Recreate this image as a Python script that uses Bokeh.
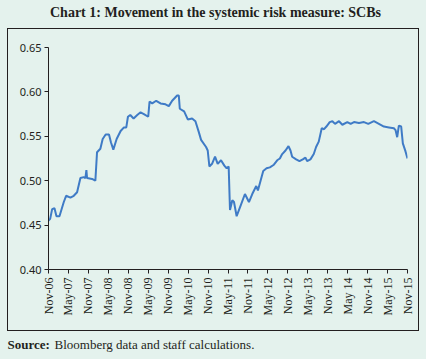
import math
from bokeh.plotting import figure
from bokeh.layouts import column
from bokeh.models import FixedTicker, Range1d, InlineStyleSheet
from bokeh.core.properties import value
from bokeh.embed import file_html
from bokeh.resources import INLINE

# months since Nov-2006
months = [0, 0.5, 1.1, 1.8, 2.4, 3.3, 4.6, 5.3, 6.6, 7.6, 8.6, 9.6, 10.6, 11.1, 11.4, 11.6,
          13.1, 14.1, 14.6, 15.6, 16.3, 17.2, 18.2, 18.8, 19.5, 20.5, 21.7, 22.7, 23.4, 23.9,
          24.6, 25.6, 26.7, 27.7, 28.7, 30.0, 30.4, 31.2, 32.4, 33.7, 35.2, 36.2, 37.2, 38.7,
          39.2, 39.5, 40.8, 41.9, 43.2, 44.2, 45.2, 45.9, 47.4, 47.9, 48.4, 49.2, 50.1, 50.9,
          51.9, 52.9, 53.6, 54.2, 54.6, 55.3, 55.8, 56.6, 57.8, 59.1, 60.3, 61.3, 62.5, 63.0,
          63.8, 64.6, 65.6, 66.6, 67.8, 68.8, 69.6, 70.3, 71.3, 72.2, 72.8, 73.3, 74.5, 75.5,
          76.5, 77.3, 77.8, 78.8, 79.8, 80.5, 81.3, 82.2, 82.9, 83.6, 84.6, 85.4, 86.2, 87.4,
          88.4, 89.9, 90.9, 91.9, 93.4, 94.9, 96.2, 97.9, 99.4, 100.9, 102.4, 103.9, 104.4,
          104.9, 105.4, 106.1, 106.6, 107.4, 108.0]
risk = [0.455, 0.457, 0.468, 0.469, 0.460, 0.460, 0.476, 0.483, 0.481, 0.483, 0.487, 0.503,
        0.504, 0.503, 0.512, 0.503, 0.502, 0.500, 0.532, 0.536, 0.547, 0.552, 0.552, 0.543,
        0.535, 0.547, 0.556, 0.560, 0.560, 0.572, 0.574, 0.570, 0.574, 0.577, 0.575, 0.572,
        0.589, 0.587, 0.590, 0.587, 0.586, 0.584, 0.590, 0.596, 0.596, 0.581, 0.578, 0.569,
        0.570, 0.567, 0.555, 0.546, 0.538, 0.534, 0.516, 0.519, 0.527, 0.519, 0.523, 0.517,
        0.514, 0.516, 0.467, 0.478, 0.476, 0.460, 0.472, 0.485, 0.476, 0.485, 0.494, 0.489,
        0.500, 0.511, 0.514, 0.515, 0.518, 0.523, 0.525, 0.530, 0.534, 0.539, 0.534, 0.527,
        0.524, 0.522, 0.524, 0.526, 0.522, 0.524, 0.530, 0.538, 0.544, 0.559, 0.558, 0.561,
        0.566, 0.567, 0.564, 0.567, 0.563, 0.566, 0.564, 0.566, 0.565, 0.566, 0.564, 0.567,
        0.564, 0.561, 0.560, 0.559, 0.557, 0.549, 0.562, 0.561, 0.542, 0.533, 0.525]

tick_positions = list(range(0, 109, 6))
tick_labels = ["Nov-06", "May-07", "Nov-07", "May-08", "Nov-08", "May-09", "Nov-09", "May-10",
               "Nov-10", "May-11", "Nov-11", "May-12", "Nov-12", "May-13", "Nov-13", "May 14",
               "Nov-14", "May-15", "Nov-15"]
y_ticks = [0.40, 0.45, 0.50, 0.55, 0.60, 0.65]

title_text = "Chart 1: Movement in the systemic risk measure: SCBs"
source_bold = "Source:"
source_rest = "Bloomberg data and staff calculations."

BG = "#e4f2ed"
INK = "#231f20"
W = 426


def text_strip(height):
    f = figure(width=W, height=height, output_backend="svg", toolbar_location=None,
               x_range=Range1d(0, W), y_range=Range1d(height, 0),
               x_axis_location=None, y_axis_location=None, min_border=0)
    f.frame_align = False
    f.background_fill_color = BG
    f.border_fill_color = BG
    f.outline_line_color = None
    f.grid.visible = False
    return f


# header with the chart title
header = text_strip(28)
header.text(x=[215], y=[11.5], text=[title_text], text_align="center", text_baseline="middle",
            text_font=value("Liberation Serif"), text_font_style="bold",
            text_font_size="14px", text_color=INK)

# main chart, with its frame box drawn by CSS
box_css = InlineStyleSheet(css="""
:host { position: relative; }
:host::after {
  content: ""; position: absolute; left: 7px; top: 0px; width: 412px; height: 303px;
  box-sizing: border-box; border: 1.2px solid #231f20; pointer-events: none; z-index: 5;
}
""")

p = figure(width=W, height=303, output_backend="svg", toolbar_location=None,
           x_range=Range1d(0, 108), y_range=Range1d(0.40, 0.65),
           min_border_left=48, min_border_right=19, min_border_top=19, min_border_bottom=62)
p.frame_align = False
p.stylesheets = [box_css]
p.background_fill_color = BG
p.border_fill_color = BG
p.outline_line_color = None
p.grid.visible = False

p.line(months, risk, line_color="#3f7bc6", line_width=2)

p.xaxis.ticker = FixedTicker(ticks=tick_positions)
p.xaxis.major_label_overrides = {t: l for t, l in zip(tick_positions, tick_labels)}
p.xaxis.major_label_orientation = math.pi / 2
p.xaxis.major_label_text_font = "Liberation Serif"
p.xaxis.major_label_text_font_size = "12px"
p.xaxis.major_label_standoff = 4

p.yaxis.ticker = FixedTicker(ticks=y_ticks)
p.yaxis.major_label_overrides = {t: f"{t:.2f}" for t in y_ticks}
p.yaxis.major_label_text_font = "Noto Sans"
p.yaxis.major_label_text_font_size = "11px"
p.yaxis.major_label_standoff = 3

for ax in (p.xaxis, p.yaxis):
    ax.axis_line_color = INK
    ax.major_tick_line_color = INK
    ax.major_tick_out = 4
    ax.major_tick_in = 0
    ax.minor_tick_line_color = None
    ax.major_label_text_color = INK

# footer with the source note
footer = text_strip(28)
footer.text(x=[7], y=[13], text=[source_bold], text_align="left", text_baseline="middle",
            text_font=value("Liberation Serif"), text_font_style="bold",
            text_font_size="13px", text_color=INK)
footer.text(x=[54], y=[13], text=[source_rest], text_align="left", text_baseline="middle",
            text_font=value("Liberation Serif"), text_font_style="normal",
            text_font_size="13px", text_color=INK)

layout = column(header, p, footer, spacing=0)

html = file_html(layout, INLINE)
html = html.replace("</head>", "<style>html, body { background: #e4f2ed; }</style></head>", 1)
open("out.html", "w").write(html)
